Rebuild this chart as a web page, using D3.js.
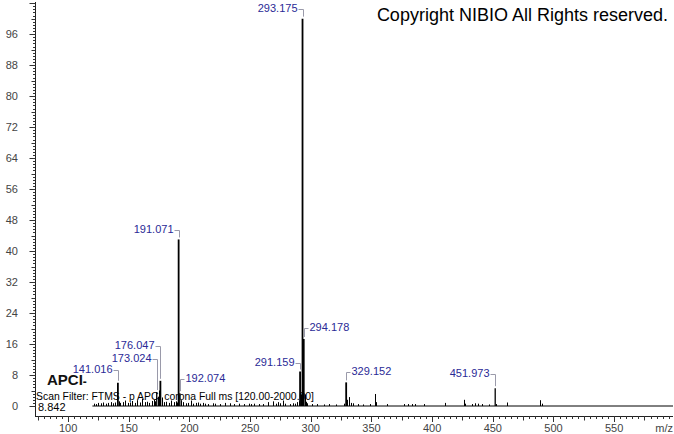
<!DOCTYPE html>
<html><head><meta charset="utf-8">
<script src="https://cdn.jsdelivr.net/npm/d3@7"></script>
<style>body{margin:0;background:#fff}svg{display:block;font-family:Arial,"Liberation Sans",sans-serif}</style>
</head><body>
<svg id="c" width="674" height="434"></svg>
<script>
// Main labelled peaks
const peakMz = [141.016, 173.024, 176.047, 191.071, 192.074, 291.159, 293.175, 294.178, 329.152, 451.973];
const peakInt = [6.0, 3.6, 6.5, 43.0, 3.3, 8.9, 100, 17.3, 6.1, 4.6];
const labelSide = ["L","L","L","L","R","L","L","R","R","L"];
const labelLevel = [9.6, 12.4, 15.7, 45.7, 7.2, 11.4, 102.7, 20.4, 9.0, 8.5];
// Unlabelled minor peaks / noise
const minorMz = [121.0,123.0,125.0,127.0,129.0,131.0,133.0,135.0,137.0,139.0,142.0,143.0,145.0,147.0,149.0,151.0,153.0,155.0,157.0,159.0,161.0,163.0,165.0,167.0,169.0,171.0,172.0,174.0,175.0,177.0,179.0,181.0,183.0,185.0,187.0,189.0,190.0,193.0,195.0,197.0,199.0,201.0,203.0,205.0,207.0,209.0,211.0,213.0,215.0,219.0,221.0,225.0,229.0,233.0,237.0,241.0,245.0,249.0,251.0,253.0,257.0,261.0,265.0,269.0,271.0,273.0,275.0,277.0,279.0,283.0,285.0,287.0,289.0,290.0,292.16,295.18,296.2,297.0,301.0,305.0,311.0,315.0,321.0,327.0,330.15,331.15,333.0,335.0,339.0,343.0,349.0,353.0,354.0,363.0,377.0,380.0,383.0,386.0,393.0,410.7,426.2,427.0,433.0,435.0,438.0,441.0,447.0,453.0,461.7,489.3,490.3];
const minorInt = [0.6,0.5,0.8,0.7,0.9,0.6,0.8,1.0,0.7,0.9,1.2,0.8,1.0,1.4,0.8,0.9,1.3,0.8,1.5,0.9,1.8,1.0,1.1,0.8,1.3,1.6,1.2,2.4,4.0,2.2,1.0,1.1,0.8,1.4,1.0,1.2,0.9,1.5,1.0,0.7,0.8,1.4,0.6,0.8,0.9,0.6,0.8,0.6,0.5,0.7,0.6,0.5,0.8,0.7,0.5,0.6,0.5,0.6,0.5,0.6,0.5,0.5,1.0,1.2,0.6,1.0,0.7,1.4,0.6,0.5,0.7,0.6,1.0,1.2,3.0,3.0,1.1,0.7,0.5,0.5,0.4,0.5,0.4,0.6,1.6,2.3,0.8,0.7,0.5,0.4,0.5,3.1,1.0,0.5,0.5,0.5,0.5,0.5,0.5,0.8,1.6,0.6,0.5,0.7,0.6,0.5,0.4,0.5,0.9,1.5,0.6];
const xTicks = [100,150,200,250,300,350,400,450,500,550];
const yTicks = [0,8,16,24,32,40,48,56,64,72,80,88,96];

const svg = d3.select("#c");
const x = d3.scaleLinear().domain([72.7, 598.5]).range([35, 673]);
const y = d3.scaleLinear().domain([0, 104.3]).range([406, 2]);
const axisY = 416;

// Y axis
svg.append("line").attr("x1",35.5).attr("x2",35.5).attr("y1",2).attr("y2",axisY).attr("stroke","#222").attr("stroke-width",1);
const yMinor = d3.range(0, 104.01, 0.8);
svg.append("g").selectAll("line").data(yMinor).join("line")
  .attr("x1", d => { const r = Math.round(d*10)%80, r4 = Math.round(d*10)%40; return r===0 ? 29.5 : (r4===0 ? 31.5 : 33); })
  .attr("x2", 35.5)
  .attr("y1", d => Math.round(y(d))+0.5).attr("y2", d => Math.round(y(d))+0.5)
  .attr("stroke","#333").attr("stroke-width",1);
svg.append("g").selectAll("text").data(yTicks).join("text")
  .attr("x", 18).attr("y", d => y(d)).attr("dy","0.35em").attr("text-anchor","end")
  .attr("font-size", 11).attr("fill", "#444").text(d => d);

// X axis
svg.append("line").attr("x1",35).attr("x2",673).attr("y1",axisY+0.5).attr("y2",axisY+0.5).attr("stroke","#222");
const xMinor = d3.range(75, 600, 5);
svg.append("g").selectAll("line").data(xMinor).join("line")
  .attr("x1", d => Math.round(x(d))+0.5).attr("x2", d => Math.round(x(d))+0.5)
  .attr("y1", axisY).attr("y2", d => d%50===0 ? axisY+6 : (d%25===0 ? axisY+4.5 : axisY+3))
  .attr("stroke","#333");
svg.append("g").selectAll("text").data(xTicks).join("text")
  .attr("x", d => x(d)).attr("y", 428.5).attr("dy","0.35em").attr("text-anchor","middle")
  .attr("font-size", 11).attr("fill", "#444").text(d => d);
svg.append("text").attr("x", 673).attr("y", 428.5).attr("dy","0.35em").attr("text-anchor","end")
  .attr("font-size", 11).attr("fill", "#444").text("m/z");

// Baseline of spectrum
svg.append("line").attr("x1", x(120)).attr("x2", x(598.5)).attr("y1", y(0)).attr("y2", y(0)).attr("stroke","#000").attr("stroke-width",1);

// Minor peaks
svg.append("g").selectAll("line").data(minorMz.map((m,i)=>[m,minorInt[i]])).join("line")
  .attr("x1", d => Math.round(x(d[0]))+0.5).attr("x2", d => Math.round(x(d[0]))+0.5)
  .attr("y1", y(0)).attr("y2", d => y(d[1]))
  .attr("stroke","#000").attr("stroke-width",1);

// Main peaks
const peaks = peakMz.map((m,i)=>({m, v:peakInt[i], side:labelSide[i], lv:labelLevel[i]}));
svg.append("g").selectAll("line").data(peaks).join("line")
  .attr("x1", d => x(d.m)).attr("x2", d => x(d.m))
  .attr("y1", y(0)).attr("y2", d => y(d.v))
  .attr("stroke","#000").attr("stroke-width", d => d.v > 5 ? 1.8 : 1.3);

// Labels with brackets
const lab = svg.append("g");
peaks.forEach(d => {
  const px = Math.round(x(d.m)) + 0.5;
  const ly = y(d.lv);
  const by = Math.round(ly) + 1.5;
  const bottom = Math.max(by + 5, y(d.v) - 2);
  if (d.side === "L") {
    lab.append("path").attr("d", `M${px-5},${by}H${px}V${bottom}`).attr("fill","none").attr("stroke","#9a9aaa").attr("stroke-width",1);
    lab.append("text").attr("x", px-6).attr("y", ly).attr("dy","0.35em").attr("text-anchor","end")
      .attr("font-size", 11).attr("fill","#2a2a96").text(d.m.toFixed(3));
  } else {
    lab.append("path").attr("d", `M${px+4},${by}H${px}V${bottom}`).attr("fill","none").attr("stroke","#9a9aaa").attr("stroke-width",1);
    lab.append("text").attr("x", px+5).attr("y", ly).attr("dy","0.35em").attr("text-anchor","start")
      .attr("font-size", 11).attr("fill","#2a2a96").text(d.m.toFixed(3));
  }
});

// Annotations
svg.append("text").attr("x", 668).attr("y", 15).attr("dy","0.35em").attr("text-anchor","end")
  .attr("font-size", 18).attr("fill","#000").text("Copyright NIBIO All Rights reserved.");
const ap = svg.append("text").attr("x", 47).attr("y", 385).attr("font-size", 15).attr("font-weight","bold").attr("fill","#111");
ap.append("tspan").text("APCI");
ap.append("tspan").attr("font-size", 12).attr("dy", 1).text("-");
svg.append("text").attr("x", 36).attr("y", 396).attr("dy","0.35em").attr("font-size", 11).attr("fill","#000")
  .attr("textLength", 278).attr("lengthAdjust","spacingAndGlyphs")
  .text("Scan Filter: FTMS - p APCI corona Full ms [120.00-2000.00]");
svg.append("text").attr("x", 38).attr("y", 407.5).attr("dy","0.35em").attr("font-size", 11).attr("fill","#000").text("8.842");
</script>
</body></html>
